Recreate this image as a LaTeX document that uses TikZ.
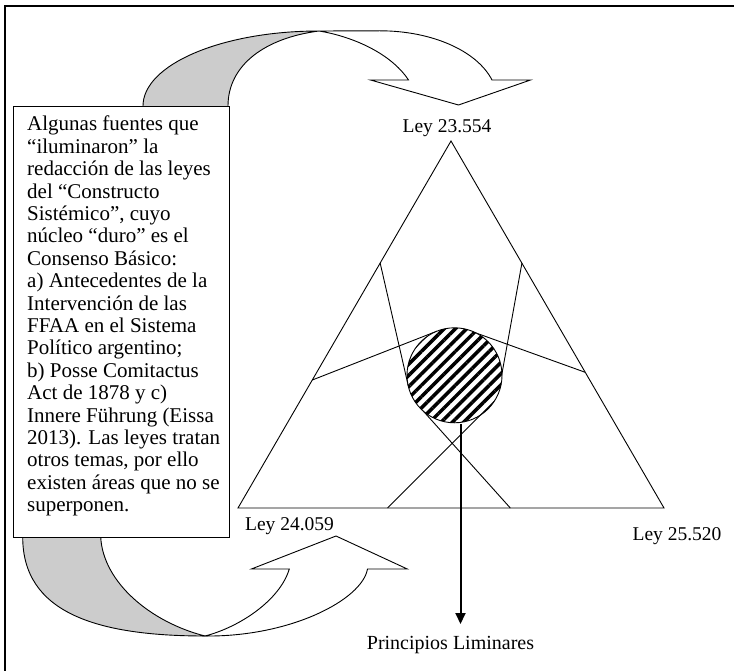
\documentclass[tikz,border=0pt]{standalone}
\usepackage{fontspec}
\setmainfont{Liberation Serif}
\usetikzlibrary{arrows.meta,patterns.meta}
\begin{document}
\begin{tikzpicture}[x=1pt,y=-1pt,
  edge/.style={draw=black,line width=0.9pt},
  band/.style={draw=black,line width=0.9pt,line join=miter},
  lbl/.style={font=\fontsize{19.5}{23}\selectfont,inner sep=0pt,anchor=base},
]
\useasboundingbox (0,0) rectangle (734,671);
\fill[white] (0,0) rectangle (734,671);
% outer frame (only top and left visible)
\draw[line width=1.3pt] (5,671) -- (5,6) -- (734,6);

% ---- top curved arrow ----
\coordinate (P) at (319,31);
\filldraw[band,fill=gray!40] (143,106) .. controls (143,64.6) and (221.8,31) .. (P)
   .. controls (265,38) and (228,65) .. (228,106);
\filldraw[band,fill=white] (P) -- (380,30.8) .. controls (431.4,30.8) and (476.9,50.6) .. (492,80)
   -- (530.5,80) -- (458.5,105) -- (370.5,80) -- (408.5,80)
   .. controls (390,52) and (350,36) .. (P) -- cycle;

% ---- bottom curved arrow ----
\coordinate (Q) at (205,636);
\filldraw[band,fill=gray!40] (22.7,537) .. controls (22.7,612) and (95,636) .. (Q)
   .. controls (150,622) and (103,582) .. (100.7,537);
\filldraw[band,fill=white] (Q) .. controls (290,637) and (362,600) .. (367.5,569)
   -- (407.3,569) -- (336,536) -- (251.4,569) -- (289.3,569)
   .. controls (280,600) and (240,627) .. (Q) -- cycle;

% ---- text box ----
\node[draw,fill=white,line width=0.9pt,minimum width=216.8pt,minimum height=431pt,
      anchor=north west,inner sep=0pt] (box) at (12.6,106) {};
\node[anchor=north west,inner sep=0pt,align=left,font=\fontsize{21}{22.4}\selectfont]
  (boxtext) at (27,116) {Algunas fuentes que\\
“iluminaron” la\\
redacción de las leyes\\
del “Constructo\\
Sistémico”, cuyo\\
núcleo “duro” es el\\
Consenso Básico:\\
a) Antecedentes de la\\
Intervención de las\\
FFAA en el Sistema\\
Político argentino;\\
b) Posse Comitactus\\
Act de 1878 y c)\\
Innere Führung (Eissa\\
2013). Las leyes tratan\\
otros temas, por ello\\
existen áreas que no se\\
superponen.};

% ---- triangle ----
\coordinate (top) at (451,141);
\coordinate (bl) at (238,508);
\coordinate (br) at (664,508);
\draw[edge,line join=miter] (top) -- (bl) -- (br) -- cycle;

% points on the sides and tangent points on the circle
\coordinate (A) at (312.3,380);   \coordinate (tA) at (436.9,331.2);
\coordinate (B) at (585.2,372.3); \coordinate (tB) at (469.9,330.8);
\coordinate (U) at (380.2,263.2); \coordinate (tU) at (408.2,385.5);
\coordinate (V) at (521.9,263.2); \coordinate (tV) at (500.3,382.8);
\coordinate (W) at (387.6,508);   \coordinate (tW) at (487.2,408.2);
\coordinate (X) at (510.3,508);   \coordinate (tX) at (419.1,406.4);
\draw[edge] (A) -- (tA);
\draw[edge] (B) -- (tB);
\draw[edge] (U) -- (tU);
\draw[edge] (V) -- (tV);
\draw[edge] (W) -- (tW);
\draw[edge] (X) -- (tX);

% hatched circle
\node[circle,draw,line width=0.9pt,minimum size=95pt,inner sep=0pt,
      preaction={fill=white},
      pattern={Lines[angle=45,distance=8pt,line width=3.5pt]}] (C) at (454.5,375.3) {};

% arrow to Principios Liminares
\coordinate (as) at (460.5,424);
\coordinate (ae) at (460.5,624);
\draw[line width=2pt,-{Triangle[width=10pt,length=11pt]}] (as) -- (ae);

% labels
\node[lbl] (l1) at (447,133) {Ley 23.554};
\node[lbl] (l2) at (289.5,530.5) {Ley 24.059};
\node[lbl] (l3) at (677,540) {Ley 25.520};
\node[lbl,font=\fontsize{20}{24}\selectfont] (pl) at (450.5,649) {Principios Liminares};
\end{tikzpicture}
\end{document}
